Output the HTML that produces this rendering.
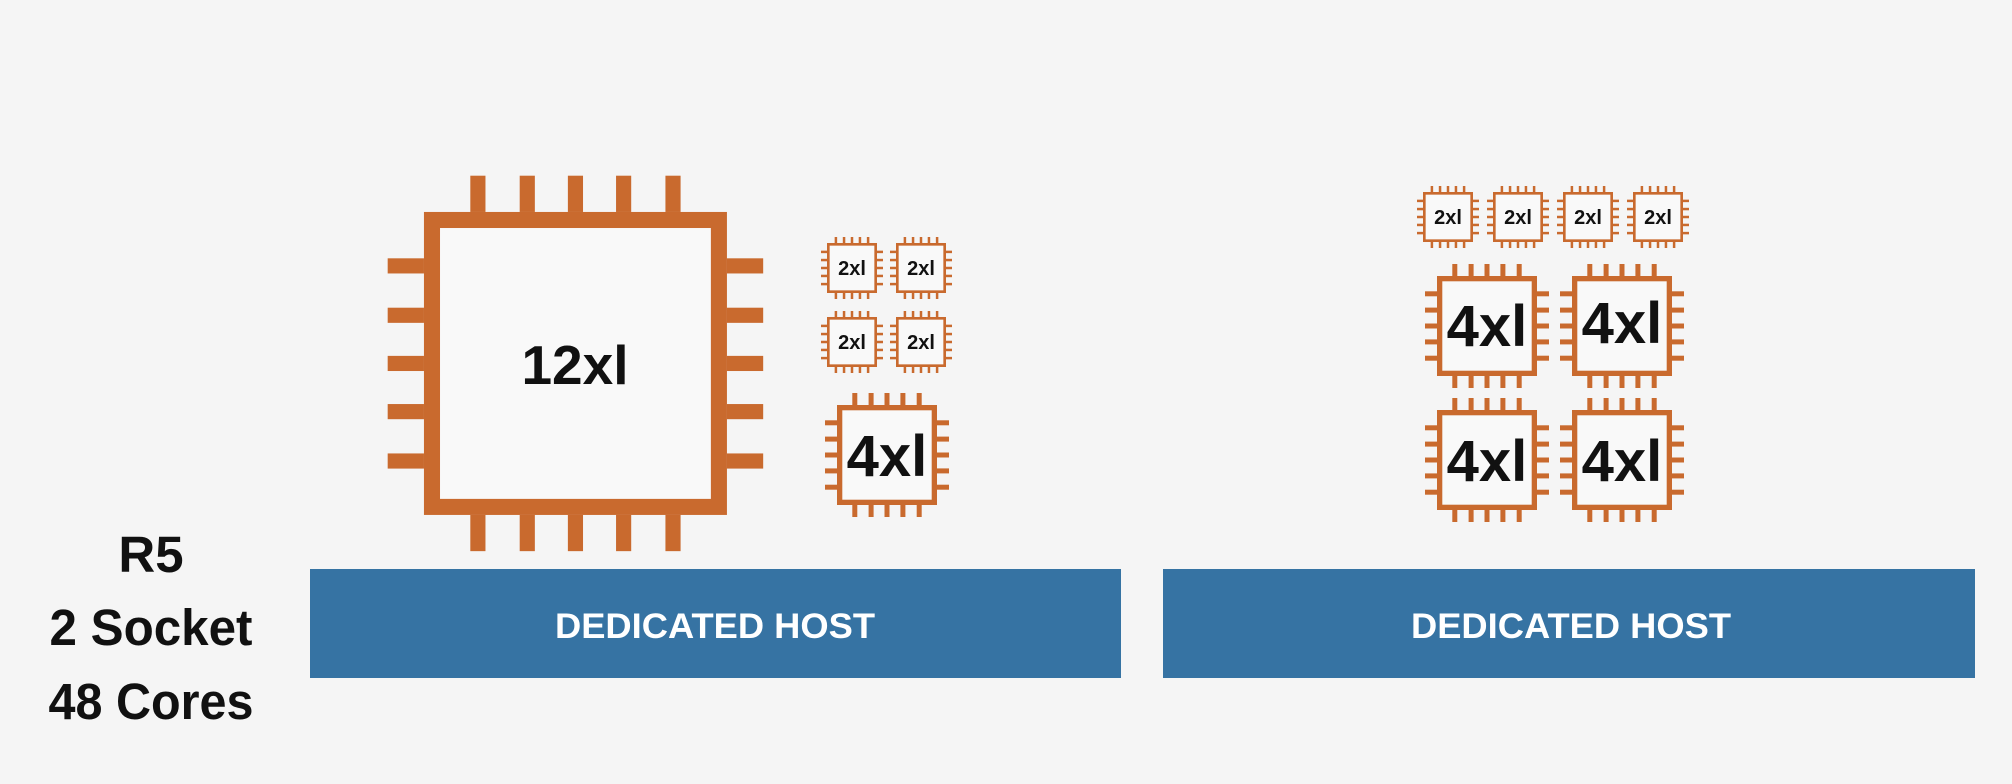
<!DOCTYPE html>
<html><head><meta charset="utf-8"><style>
html,body{margin:0;padding:0;background:#f5f5f5;width:2012px;height:784px;overflow:hidden}
svg{display:block}
text{font-family:"Liberation Sans",sans-serif;font-weight:bold}
</style></head><body>
<svg width="2012" height="784" viewBox="0 0 2012 784" xmlns="http://www.w3.org/2000/svg">
<defs>
<symbol id="chip" viewBox="-12 -12 124 124">
<rect x="2.65" y="2.65" width="94.7" height="94.7" fill="#f9f9f9" stroke="#c96a2e" stroke-width="5.3"/>
<g fill="#c96a2e">
<rect x="15.3" y="-12" width="5" height="12"/><rect x="31.6" y="-12" width="5" height="12"/><rect x="47.5" y="-12" width="5" height="12"/><rect x="63.4" y="-12" width="5" height="12"/><rect x="79.7" y="-12" width="5" height="12"/>
<rect x="15.3" y="100" width="5" height="12"/><rect x="31.6" y="100" width="5" height="12"/><rect x="47.5" y="100" width="5" height="12"/><rect x="63.4" y="100" width="5" height="12"/><rect x="79.7" y="100" width="5" height="12"/>
<rect y="15.3" x="-12" height="5" width="12"/><rect y="31.6" x="-12" height="5" width="12"/><rect y="47.5" x="-12" height="5" width="12"/><rect y="63.4" x="-12" height="5" width="12"/><rect y="79.7" x="-12" height="5" width="12"/>
<rect y="15.3" x="100" height="5" width="12"/><rect y="31.6" x="100" height="5" width="12"/><rect y="47.5" x="100" height="5" width="12"/><rect y="63.4" x="100" height="5" width="12"/><rect y="79.7" x="100" height="5" width="12"/>
</g>
</symbol>
</defs>

<!-- big chip: body 424,212 s=303 -->
<use href="#chip" x="387.6" y="175.6" width="375.7" height="375.7"/>
<text x="575" y="384" font-size="55" text-anchor="middle" fill="#111">12xl</text>

<!-- left small 2xl -->
<use href="#chip" x="821" y="237" width="62" height="62"/>
<use href="#chip" x="890" y="237" width="62" height="62"/>
<use href="#chip" x="821" y="311" width="62" height="62"/>
<use href="#chip" x="890" y="311" width="62" height="62"/>
<g font-size="20" text-anchor="middle" fill="#111">
<text x="852" y="275">2xl</text><text x="921" y="275">2xl</text>
<text x="852" y="349">2xl</text><text x="921" y="349">2xl</text>
</g>
<use href="#chip" x="825" y="393" width="124" height="124"/>
<text x="887" y="476" font-size="58" text-anchor="middle" fill="#111">4xl</text>

<!-- right group -->
<use href="#chip" x="1417" y="186" width="62" height="62"/>
<use href="#chip" x="1487" y="186" width="62" height="62"/>
<use href="#chip" x="1557" y="186" width="62" height="62"/>
<use href="#chip" x="1627" y="186" width="62" height="62"/>
<g font-size="20" text-anchor="middle" fill="#111">
<text x="1448" y="224">2xl</text><text x="1518" y="224">2xl</text><text x="1588" y="224">2xl</text><text x="1658" y="224">2xl</text>
</g>
<use href="#chip" x="1425" y="264" width="124" height="124"/>
<use href="#chip" x="1560" y="264" width="124" height="124"/>
<use href="#chip" x="1425" y="398" width="124" height="124"/>
<use href="#chip" x="1560" y="398" width="124" height="124"/>
<g font-size="58" text-anchor="middle" fill="#111">
<text x="1487" y="346">4xl</text><text x="1622" y="343">4xl</text>
<text x="1487" y="481">4xl</text><text x="1622" y="481">4xl</text>
</g>

<!-- bars -->
<rect x="310" y="569" width="811" height="109" fill="#3673a3"/>
<rect x="1163" y="569" width="812" height="109" fill="#3673a3"/>
<text x="715" y="638" font-size="35" fill="#fff" text-anchor="middle" textLength="320" lengthAdjust="spacingAndGlyphs">DEDICATED HOST</text>
<text x="1571" y="638" font-size="35" fill="#fff" text-anchor="middle" textLength="320" lengthAdjust="spacingAndGlyphs">DEDICATED HOST</text>

<!-- left label -->
<g font-size="51" fill="#111" text-anchor="middle">
<text x="151" y="572">R5</text>
<text x="151" y="645" textLength="203" lengthAdjust="spacingAndGlyphs">2 Socket</text>
<text x="151" y="719" textLength="205" lengthAdjust="spacingAndGlyphs">48 Cores</text>
</g>
</svg>
</body></html>
